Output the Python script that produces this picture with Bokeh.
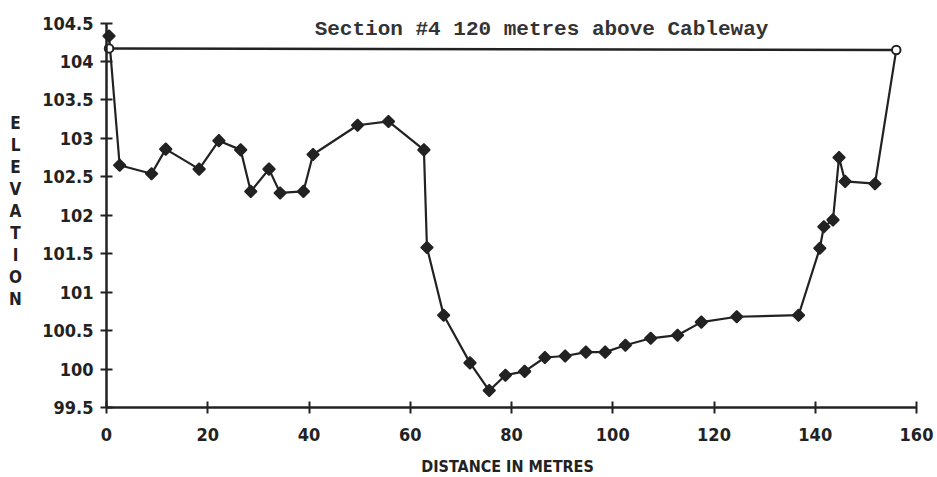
from bokeh.plotting import figure
from bokeh.models import LinearAxis, FixedTicker, Label, Range1d, ColumnDataSource
from bokeh.embed import file_html
from bokeh.resources import INLINE

# ---- data ----
bed_distance = [0.5, 2.6, 8.9, 11.7, 18.3, 22.2, 26.5, 28.5, 32.1, 34.3, 38.9, 40.8,
                49.6, 55.7, 62.7, 63.3, 66.6, 71.8, 75.6, 78.8, 82.6, 86.6, 90.6,
                94.7, 98.5, 102.5, 107.5, 112.8, 117.5, 124.5, 136.7, 140.9, 141.7,
                143.5, 144.7, 145.9, 151.8, 156.0]
bed_elevation = [104.33, 102.65, 102.54, 102.86, 102.60, 102.97, 102.85, 102.31, 102.60,
                 102.29, 102.31, 102.79, 103.17, 103.22, 102.85, 101.58, 100.70, 100.08,
                 99.72, 99.92, 99.97, 100.15, 100.17, 100.22, 100.22, 100.31, 100.40,
                 100.44, 100.61, 100.68, 100.70, 101.57, 101.85, 101.94, 102.75, 102.44,
                 102.41, 104.15]
water_distance = [0.5, 156.0]
water_elevation = [104.17, 104.15]

x_ticks = [0, 20, 40, 60, 80, 100, 120, 140, 160]
y_ticks = [99.5, 100, 100.5, 101, 101.5, 102, 102.5, 103, 103.5, 104, 104.5]
y_tick_labels = ["99.5", "100", "100.5", "101", "101.5", "102", "102.5", "103",
                 "103.5", "104", "104.5"]
title_text = "Section #4 120 metres above Cableway"
x_label = "DISTANCE IN METRES"
y_label = "ELEVATION"

INK = "#222222"
TICK_FONT = "'DejaVu Sans Condensed', 'DejaVu Sans'"

# frame covers the whole canvas; axes are pinned at x=0 and y=99.5
XS, YS = 5.0625, 76.9          # pixels per data unit
X0, Y0 = 106, 407              # pixel position of (0, 99.5)
W, H = 937, 477

p = figure(width=W, height=H,
           x_range=Range1d(-X0 / XS, (W - X0) / XS),
           y_range=Range1d(99.5 - (H - Y0) / YS, 99.5 + Y0 / YS),
           x_axis_type=None, y_axis_type=None, min_border=0,
           toolbar_location=None, output_backend="svg",
           background_fill_color="white", border_fill_color="white")
p.outline_line_color = None
p.xgrid.visible = False
p.ygrid.visible = False

xaxis = LinearAxis(fixed_location=99.5, ticker=FixedTicker(ticks=x_ticks))
xaxis.bounds = (0, 160)
yaxis = LinearAxis(fixed_location=0, ticker=FixedTicker(ticks=y_ticks))
yaxis.bounds = (99.5, 104.5)
yaxis.major_label_overrides = {t: s for t, s in zip(y_ticks, y_tick_labels)}
for ax in (xaxis, yaxis):
    ax.axis_line_width = 2.5
    ax.axis_line_color = INK
    ax.major_tick_line_width = 2
    ax.major_tick_line_color = INK
    ax.major_tick_in = 6
    ax.major_tick_out = 6
    ax.minor_tick_line_color = None
    ax.major_label_text_font = TICK_FONT
    ax.major_label_text_font_style = "bold"
    ax.major_label_text_font_size = "18px"
    ax.major_label_text_color = INK
xaxis.major_label_standoff = 14
yaxis.major_label_standoff = 7
p.add_layout(xaxis, "below")
p.add_layout(yaxis, "left")

bed = ColumnDataSource(dict(x=bed_distance, y=bed_elevation))
bed_pts = ColumnDataSource(dict(x=bed_distance[:-1], y=bed_elevation[:-1]))
water = ColumnDataSource(dict(x=water_distance, y=water_elevation))

p.line("x", "y", source=water, line_width=2.5, line_color=INK)
p.line("x", "y", source=bed, line_width=2.2, line_color=INK)
p.scatter("x", "y", source=bed_pts, marker="square", size=8.5, angle=0.785398,
          fill_color=INK, line_color=INK, line_width=1.5)
p.scatter("x", "y", source=water, marker="circle", size=8.5, fill_color="white",
          line_color=INK, line_width=2)

def px_to_x(px):
    return (px - X0) / XS

def py_to_y(py):
    return 99.5 + (Y0 - py) / YS

p.add_layout(Label(x=px_to_x(541), y=py_to_y(29), text=title_text, text_align="center",
                   text_baseline="middle", text_font="'Liberation Mono'",
                   text_font_style="bold", text_font_size="21px", text_color="#333333"))
p.add_layout(Label(x=px_to_x(507), y=py_to_y(466), text=x_label, text_align="center",
                   text_baseline="middle", text_font=TICK_FONT,
                   text_font_style="bold", text_font_size="16px", text_color=INK))
for i, ch in enumerate(y_label):
    p.add_layout(Label(x=px_to_x(15), y=py_to_y(122 + 22 * i), text=ch,
                       text_align="center", text_baseline="middle",
                       text_font=TICK_FONT, text_font_style="bold",
                       text_font_size="17px", text_color=INK))

open("out.html", "w").write(file_html(p, INLINE))
